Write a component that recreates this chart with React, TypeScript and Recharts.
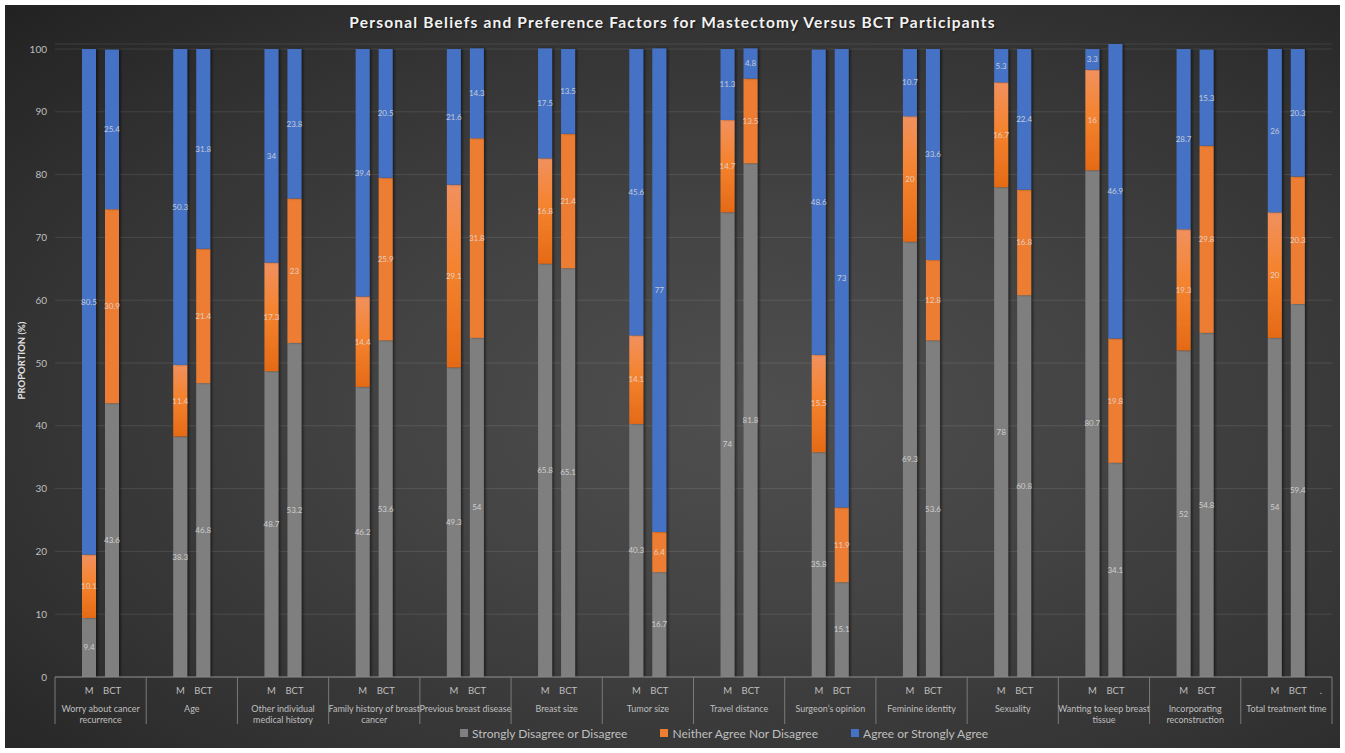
import React from 'react';
import { BarChart, Bar, XAxis, YAxis, CartesianGrid, LabelList, Label } from 'recharts';

const categories = [
  'Worry about cancer\nrecurrence',
  'Age',
  'Other individual\nmedical history',
  'Family history of breast\ncancer',
  'Previous breast disease',
  'Breast size',
  'Tumor size',
  'Travel distance',
  'Surgeon\u2019s opinion',
  'Feminine identity',
  'Sexuality',
  'Wanting to keep breast\ntissue',
  'Incorporating\nreconstruction',
  'Total treatment time',
];

const groupLabels = ['M', 'BCT'];
const trailingLabel = '.';
const seriesNames = ['Strongly Disagree or Disagree', 'Neither Agree Nor Disagree', 'Agree or Strongly Agree'];

const mDisagree = [9.4, 38.3, 48.7, 46.2, 49.3, 65.8, 40.3, 74, 35.8, 69.3, 78, 80.7, 52, 54];
const mNeutral = [10.1, 11.4, 17.3, 14.4, 29.1, 16.8, 14.1, 14.7, 15.5, 20, 16.7, 16, 19.3, 20];
const mAgree = [80.5, 50.3, 34, 39.4, 21.6, 17.5, 45.6, 11.3, 48.6, 10.7, 5.3, 3.3, 28.7, 26];
const bctDisagree = [43.6, 46.8, 53.2, 53.6, 54, 65.1, 16.7, 81.8, 15.1, 53.6, 60.8, 34.1, 54.8, 59.4];
const bctNeutral = [30.9, 21.4, 23, 25.9, 31.8, 21.4, 6.4, 13.5, 11.9, 12.8, 16.8, 19.8, 29.8, 20.3];
const bctAgree = [25.4, 31.8, 23.8, 20.5, 14.3, 13.5, 77, 4.8, 73, 33.6, 22.4, 46.9, 15.3, 20.3];

const yTicks = [0, 10, 20, 30, 40, 50, 60, 70, 80, 90, 100];

const data = categories.map((name, i) => ({
  name,
  mDisagree: mDisagree[i],
  mNeutral: mNeutral[i],
  mAgree: mAgree[i],
  bctDisagree: bctDisagree[i],
  bctNeutral: bctNeutral[i],
  bctAgree: bctAgree[i],
}));

const GRAY = '#7f7f7f';
const ORANGE = '#ED7D31';
const BLUE = '#4472C4';
const legendColors = [GRAY, ORANGE, BLUE];

const BAR_SIZE = 14;
const BAR_GAP = 9;
const PAIR_OFFSET = (BAR_SIZE + BAR_GAP) / 2;

const FONT = 'Lato, "Open Sans", sans-serif';
const AXIS_TEXT = '#bfbfbf';
const SEP = '#7a7a7a';

const CategoryTick = (props: any) => {
  const { x, y, payload, index } = props;
  const half = payload && payload.offset ? payload.offset : 45.6;
  const lines = String(payload.value).split('\n');
  const isLast = index === categories.length - 1;
  return (
    <g>
      <line x1={x - half} x2={x - half} y1={y} y2={y + 47} stroke={SEP} strokeWidth={1} />
      {isLast && <line x1={x + half} x2={x + half} y1={y} y2={y + 47} stroke={SEP} strokeWidth={1} />}
      <text x={x - PAIR_OFFSET} y={y + 16.5} textAnchor="middle" fill={AXIS_TEXT} fontSize={9.5} fontFamily={FONT}>
        {groupLabels[0]}
      </text>
      <text x={x + PAIR_OFFSET} y={y + 16.5} textAnchor="middle" fill={AXIS_TEXT} fontSize={9.5} fontFamily={FONT}>
        {groupLabels[1]}
      </text>
      {isLast && (
        <text x={x + PAIR_OFFSET * 3} y={y + 16.5} textAnchor="middle" fill={AXIS_TEXT} fontSize={9.5} fontFamily={FONT}>
          {trailingLabel}
        </text>
      )}
      {lines.map((ln, k) => (
        <text key={k} x={x} y={y + 34.5 + k * 11} textAnchor="middle" fill={AXIS_TEXT} fontSize={9} fontFamily={FONT}>
          {ln}
        </text>
      ))}
    </g>
  );
};

const makeShape = (fill: string) => (p: any) => {
  if (!p || !p.height) return <g />;
  return <rect x={p.x} y={p.y} width={p.width} height={p.height} fill={fill} filter="url(#barShadow)" />;
};

const labelStyle = { fill: 'rgba(225,225,225,0.8)', fontSize: 8, fontFamily: FONT };

const series = [
  { key: 'mDisagree', stack: 'M', fill: GRAY },
  { key: 'mNeutral', stack: 'M', fill: 'url(#orangeGrad)' },
  { key: 'mAgree', stack: 'M', fill: BLUE },
  { key: 'bctDisagree', stack: 'BCT', fill: GRAY },
  { key: 'bctNeutral', stack: 'BCT', fill: ORANGE },
  { key: 'bctAgree', stack: 'BCT', fill: BLUE },
];

export default function App() {
  return (
    <div
      style={{
        position: 'absolute',
        left: 5,
        top: 5,
        width: 1335,
        height: 743,
        background: 'radial-gradient(ellipse at 56% 55%, #4f4f4f 0%, #434343 35%, #333333 70%, #222222 100%)',
        overflow: 'hidden',
      }}
    >
      <div
        style={{
          position: 'absolute',
          left: 0,
          right: 0,
          top: 6,
          textAlign: 'center',
          fontFamily: FONT,
          fontWeight: 700,
          fontSize: 15.5,
          letterSpacing: 1.2,
          lineHeight: '22px',
          color: '#f2f2f2',
          textShadow: '1px 1px 2px rgba(0,0,0,0.6)',
        }}
      >
        Personal Beliefs and Preference Factors for Mastectomy Versus BCT Participants
      </div>
      <BarChart
        width={1335}
        height={743}
        data={data}
        margin={{ top: 39, right: 8, left: 0, bottom: 16 }}
        barSize={BAR_SIZE}
        barGap={BAR_GAP}
      >
        <defs>
          <linearGradient id="orangeGrad" x1="0" y1="0" x2="0" y2="1">
            <stop offset="0%" stopColor="#F1915E" />
            <stop offset="45%" stopColor="#F5832F" />
            <stop offset="100%" stopColor="#E56A16" />
          </linearGradient>
          <filter id="barShadow" x="-30%" y="-5%" width="160%" height="110%">
            <feDropShadow dx="2" dy="0" stdDeviation="1" floodColor="#000" floodOpacity="0.45" />
          </filter>
        </defs>
        <CartesianGrid vertical={false} stroke="rgba(255,255,255,0.1)" />
        <XAxis
          dataKey="name"
          interval={0}
          height={55}
          tickSize={0}
          tickMargin={0}
          tickLine={false}
          axisLine={{ stroke: '#8a8a8a', strokeWidth: 1 }}
          tick={<CategoryTick />}
        />
        <YAxis
          domain={[0, 100]}
          ticks={yTicks}
          width={50}
          axisLine={false}
          tickLine={false}
          tick={{ fill: AXIS_TEXT, fontSize: 10, fontFamily: FONT }}
        >
          <Label
            value="PROPORTION (%)"
            angle={-90}
            position="center"
            dx={-8}
            style={{ fill: '#e0e0e0', fontSize: 9.5, fontWeight: 700, fontFamily: FONT }}
          />
        </YAxis>
        {series.map((s) => (
          <Bar
            key={s.key}
            dataKey={s.key}
            stackId={s.stack}
            fill={s.fill}
            shape={makeShape(s.fill)}
            isAnimationActive={false}
          >
            <LabelList dataKey={s.key} position="center" style={labelStyle} />
          </Bar>
        ))}
      </BarChart>
      <div
        style={{
          position: 'absolute',
          left: 455,
          top: 720,
          height: 16,
          display: 'flex',
          alignItems: 'center',
          fontFamily: FONT,
          fontSize: 12,
          color: AXIS_TEXT,
          whiteSpace: 'nowrap',
        }}
      >
        {seriesNames.map((n, i) => (
          <div key={n} style={{ display: 'flex', alignItems: 'center', marginRight: 33 }}>
            <span style={{ display: 'inline-block', width: 8, height: 8, background: legendColors[i], marginRight: 4 }} />
            {n}
          </div>
        ))}
      </div>
    </div>
  );
}
